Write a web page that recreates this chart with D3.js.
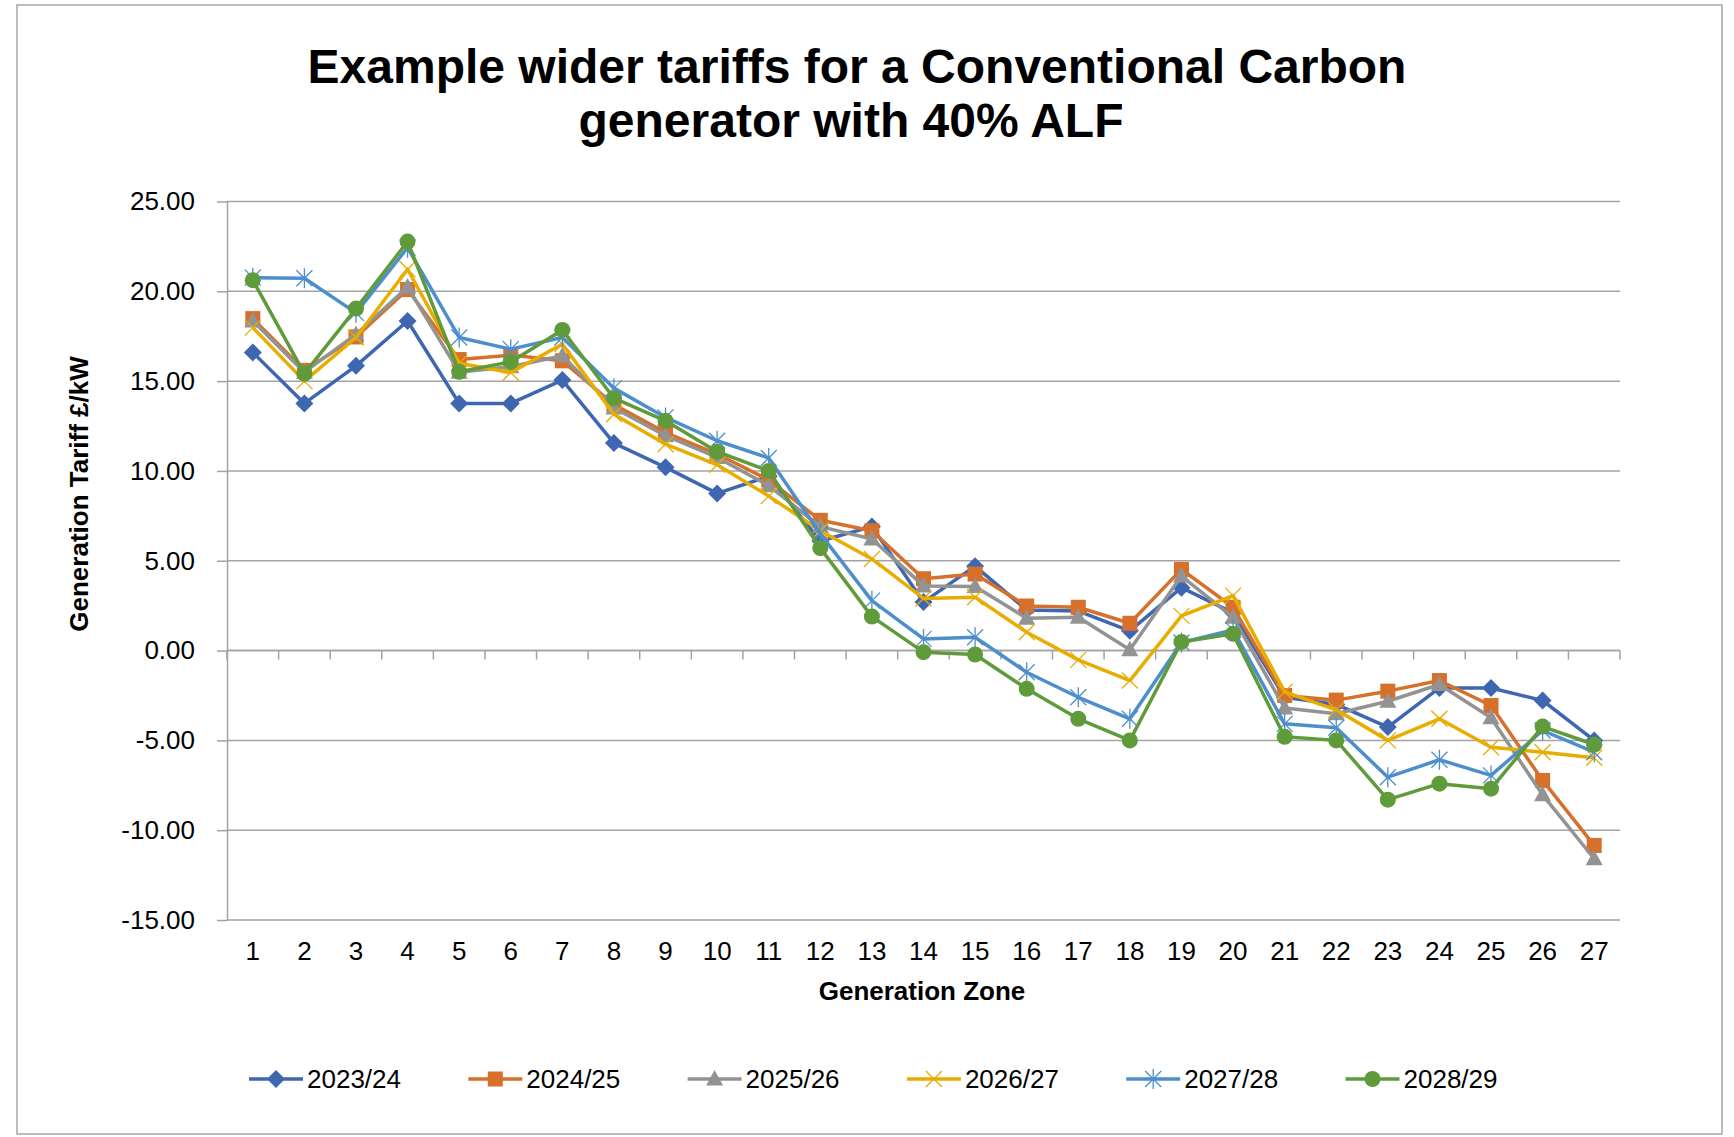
<!DOCTYPE html>
<html>
<head>
<meta charset="utf-8">
<script src="https://cdn.jsdelivr.net/npm/d3@7/dist/d3.min.js"></script>
<style>
    body { margin: 0; background: #fff; }
    svg { display: block; font-family: "Liberation Sans", Arial, sans-serif; }
</style>
</head>
<body>
<svg id="chart" width="1734" height="1137"></svg>
<script>
const zones = d3.range(1, 28);
const yTicks = [-15, -10, -5, 0, 5, 10, 15, 20, 25];
const seriesNames = ['2023/24', '2024/25', '2025/26', '2026/27', '2027/28', '2028/29'];
const seriesColors = ['#3f67b1', '#d6702b', '#939393', '#e8ad00', '#4d8fcc', '#5f9b3a'];
const seriesMarkers = ['diamond', 'square', 'triangle', 'cross', 'star', 'circle'];

const tariffs2023 = [16.6, 13.76, 15.85, 18.35, 13.76, 13.76, 15.06, 11.55, 10.2, 8.75, 9.7, 6.1, 6.9, 2.7,
    4.7, 2.26, 2.2, 1.1, 3.5, 2.1, -2.6, -3.0, -4.26, -2.08, -2.08, -2.78, -5.0];
const tariffs2024 = [18.48, 15.6, 17.46, 20.1, 16.2, 16.45, 16.13, 13.7, 12.14, 10.94, 9.5, 7.25, 6.67, 4.0,
    4.26, 2.48, 2.41, 1.52, 4.52, 2.41, -2.5, -2.76, -2.26, -1.67, -3.06, -7.23, -10.85];
const tariffs2025 = [18.35, 15.5, 17.6, 20.24, 15.5, 15.8, 16.41, 13.5, 11.96, 10.75, 9.18, 6.9, 6.21, 3.6,
    3.56, 1.8, 1.85, 0.04, 4.15, 1.85, -3.2, -3.52, -2.82, -1.89, -3.74, -8.03, -11.59];
const tariffs2026 = [17.98, 15.0, 17.43, 21.23, 16.0, 15.48, 17.06, 13.16, 11.49, 10.34, 8.6, 6.67, 5.1, 2.9,
    2.97, 1.02, -0.52, -1.67, 1.93, 3.06, -2.3, -3.3, -5.0, -3.8, -5.38, -5.66, -5.97];
const tariffs2027 = [20.76, 20.73, 18.8, 22.43, 17.43, 16.78, 17.43, 14.61, 12.98, 11.68, 10.72, 6.5, 2.78, 0.65,
    0.74, -1.21, -2.6, -3.8, 0.45, 1.15, -4.08, -4.3, -7.05, -6.08, -6.95, -4.45, -5.66];
const tariffs2028 = [20.62, 15.42, 19.04, 22.77, 15.52, 16.07, 17.85, 14.05, 12.79, 11.07, 10.0, 5.7, 1.89, -0.09,
    -0.22, -2.13, -3.8, -5.0, 0.48, 0.93, -4.8, -5.0, -8.3, -7.41, -7.69, -4.23, -5.23];

const seriesValues = [tariffs2023, tariffs2024, tariffs2025, tariffs2026, tariffs2027, tariffs2028];

class TariffChart {
    constructor() {
        this.svg = d3.select('#chart');
        this.left = 227;
        this.right = 1620;
        this.top = 201.5;
        this.bottom = 920;
        this.gridColor = '#a3a3a3';

        this.x = d3.scaleBand().domain(zones).range([this.left, this.right]).padding(0);
        this.y = d3.scaleLinear().domain([-15, 25]).range([this.bottom, this.top]);

        this.series = seriesNames.map((name, i) => ({
            name: name,
            color: seriesColors[i],
            marker: seriesMarkers[i],
            points: zones.map((z, j) => ({ zone: z, value: seriesValues[i][j] }))
        }));
    }

    draw() {
        this.drawFrame();
        this.drawTitle();
        this.drawYAxis();
        this.drawXAxis();
        this.drawSeries();
        this.drawLegend();
    }

    drawFrame() {
        this.svg.append('rect')
            .attr('x', 17).attr('y', 5)
            .attr('width', 1705).attr('height', 1129)
            .attr('fill', '#fff')
            .attr('stroke', '#a6a6a6')
            .attr('stroke-width', 1.5);
    }

    drawTitle() {
        const title = this.svg.append('text')
            .attr('text-anchor', 'middle')
            .attr('font-size', 48)
            .attr('font-weight', 'bold')
            .attr('fill', '#000');
        title.append('tspan').attr('x', 857).attr('y', 83).text('Example wider tariffs for a Conventional Carbon');
        title.append('tspan').attr('x', 851).attr('y', 137).text('generator with 40% ALF');
    }

    drawYAxis() {
        // Gridlines across the plot
        this.svg.append('g')
            .selectAll('line')
            .data(yTicks)
            .enter().append('line')
            .attr('x1', this.left)
            .attr('x2', this.right)
            .attr('y1', d => this.y(d))
            .attr('y2', d => this.y(d))
            .attr('stroke', this.gridColor)
            .attr('stroke-width', 1.5);

        const axis = this.svg.append('g')
            .attr('transform', `translate(${this.left},0)`)
            .call(d3.axisLeft(this.y)
                .tickValues(yTicks)
                .tickFormat(d => d.toFixed(2)) // plain hyphen, like the original
                .tickSize(10)
                .tickSizeOuter(0)
                .tickPadding(22));
        axis.select('.domain').attr('stroke', this.gridColor).attr('stroke-width', 1.5);
        axis.selectAll('.tick line').attr('stroke', this.gridColor).attr('stroke-width', 1.5);
        axis.selectAll('.tick text')
            .attr('font-size', 26)
            .attr('font-family', '"Liberation Sans", Arial, sans-serif')
            .attr('fill', '#000');

        this.svg.append('text')
            .attr('transform', 'translate(88,494) rotate(-90)')
            .attr('text-anchor', 'middle')
            .attr('font-size', 26)
            .attr('font-weight', 'bold')
            .text('Generation Tariff £/kW');
    }

    drawXAxis() {
        const y0 = this.y(0);
        this.svg.append('line')
            .attr('x1', this.left).attr('x2', this.right)
            .attr('y1', y0).attr('y2', y0)
            .attr('stroke', this.gridColor)
            .attr('stroke-width', 1.5);

        // Tick marks sit on the zone boundaries
        const bounds = zones.map(z => this.x(z)).concat([this.right]);
        this.svg.append('g')
            .selectAll('line')
            .data(bounds)
            .enter().append('line')
            .attr('x1', d => d).attr('x2', d => d)
            .attr('y1', y0).attr('y2', y0 + 9)
            .attr('stroke', this.gridColor)
            .attr('stroke-width', 1.5);

        const axis = this.svg.append('g')
            .attr('transform', `translate(0,${this.bottom})`)
            .call(d3.axisBottom(this.x).tickSize(0).tickPadding(22));
        axis.select('.domain').remove();
        axis.selectAll('.tick text')
            .attr('font-size', 26)
            .attr('font-family', '"Liberation Sans", Arial, sans-serif')
            .attr('fill', '#000');

        this.svg.append('text')
            .attr('x', 922)
            .attr('y', 1000)
            .attr('text-anchor', 'middle')
            .attr('font-size', 26)
            .attr('font-weight', 'bold')
            .text('Generation Zone');
    }

    markerShape(sel, type, color) {
        if (type === 'diamond') {
            sel.append('path').attr('d', 'M0,-9L9,0L0,9L-9,0Z').attr('fill', color);
        } else if (type === 'square') {
            sel.append('rect').attr('x', -7.5).attr('y', -7.5).attr('width', 15).attr('height', 15).attr('fill', color);
        } else if (type === 'triangle') {
            sel.append('path').attr('d', 'M0,-9L8.5,6.5L-8.5,6.5Z').attr('fill', color);
        } else if (type === 'circle') {
            sel.append('circle').attr('r', 8).attr('fill', color);
        } else if (type === 'cross') {
            sel.append('path').attr('d', 'M-8,-8L8,8M-8,8L8,-8')
                .attr('stroke', color).attr('stroke-width', 1.3).attr('fill', 'none');
        } else if (type === 'star') {
            sel.append('path').attr('d', 'M-8,-8L8,8M-8,8L8,-8M0,-10L0,10')
                .attr('stroke', color).attr('stroke-width', 1.3).attr('fill', 'none');
        }
    }

    drawSeries() {
        const line = d3.line()
            .x(d => this.x(d.zone) + this.x.bandwidth() / 2)
            .y(d => this.y(d.value));

        this.series.forEach(s => {
            const g = this.svg.append('g');
            g.append('path')
                .datum(s.points)
                .attr('d', line)
                .attr('fill', 'none')
                .attr('stroke', s.color)
                .attr('stroke-width', 3.5)
                .attr('stroke-linejoin', 'round');

            const self = this;
            g.selectAll('g.marker')
                .data(s.points)
                .enter().append('g')
                .attr('class', 'marker')
                .attr('transform', d => `translate(${this.x(d.zone) + this.x.bandwidth() / 2},${this.y(d.value)})`)
                .each(function () {
                    self.markerShape(d3.select(this), s.marker, s.color);
                });
        });
    }

    drawLegend() {
        const self = this;
        const legend = this.svg.append('g')
            .selectAll('g')
            .data(this.series)
            .enter().append('g')
            .attr('transform', (d, i) => `translate(${249 + i * 219.3},1079)`);

        legend.append('line')
            .attr('x1', 0).attr('x2', 54)
            .attr('stroke', d => d.color)
            .attr('stroke-width', 3.5);

        legend.each(function (d) {
            const m = d3.select(this).append('g').attr('transform', 'translate(27,0)');
            self.markerShape(m, d.marker, d.color);
        });

        legend.append('text')
            .attr('x', 58)
            .attr('y', 9)
            .attr('font-size', 26)
            .text(d => d.name);
    }
}

const chart = new TariffChart();
chart.draw();
</script>
</body>
</html>
